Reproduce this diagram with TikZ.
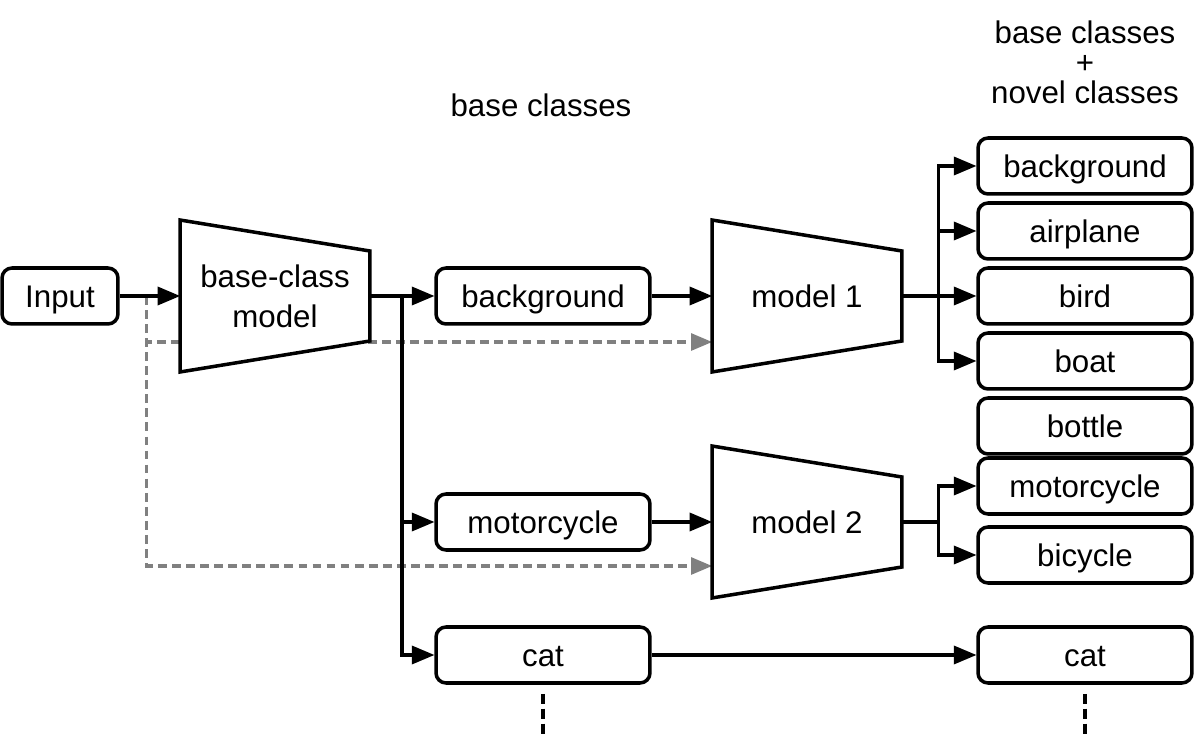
\documentclass[tikz,border=0pt]{standalone}
\usepackage{fontspec}
\setmainfont{Liberation Sans}
\usetikzlibrary{arrows}
\usetikzlibrary{calc,backgrounds}

\begin{document}
\begin{tikzpicture}[line cap=butt,line join=miter,>=triangle 45,x=0.02cm,y=-0.02cm,
    box/.style={draw,line width=2pt,rounded corners=0.2cm,minimum width=4.28cm,minimum height=1.12cm,text height=12.8pt,text depth=0pt,font=\fontsize{17.8}{21}\selectfont},
    model/.style={outer sep=0pt,minimum width=3.8cm,minimum height=3.04cm,align=center,font=\fontsize{17.8}{22.8}\selectfont},
    conn/.style={->,line width=2pt},
    skip/.style={->,line width=1.8pt,color=gray,dash pattern=on 5pt off 3pt},
    title/.style={align=center,font=\fontsize{17.8}{17}\selectfont}]
  \useasboundingbox (0,0) rectangle (1201,736);
  % left part
  \node[box,minimum width=2.32cm] (input) at (60,296) {Input};
  \node[model] (bcm) at (275,296) {base-class\\model};
  \node[box] (bg) at (543,296) {background};
  \node[box] (moto) at (543,522) {motorcycle};
  \node[box] (cat) at (543,655) {cat};
  \node[title] (basetitle) at (541,105) {base classes};
  % models
  \node[model] (m1) at (807,296) {model 1};
  \node[model] (m2) at (807,522) {model 2};
  % outputs
  \node[box] (rbg) at (1085,166) {background};
  \node[box] (rair) at (1085,231) {airplane};
  \node[box] (rbird) at (1085,296) {bird};
  \node[box] (rboat) at (1085,361) {boat};
  \node[box] (rbottle) at (1085,426) {bottle};
  \node[box] (rmoto) at (1085,486) {motorcycle};
  \node[box] (rbike) at (1085,555) {bicycle};
  \node[box] (rcat) at (1085,655) {cat};
  \node[title] (alltitle) at (1085,62) {base classes\\+\\novel classes};
  % junctions
  \coordinate (tap) at ($(input.east)!0.45!(bcm.west)$);
  \coordinate (split) at ($(bcm.east)!0.5!(bg.west)$);
  \coordinate (fan1) at ($(m1.east)!0.49!(rbird.west)$);
  \coordinate (fan2) at (fan1 |- m2.east);
  % arrows
  \draw[conn] (input) -- (bcm.west);
  \draw[conn] (bcm.east) -- (bg);
  \draw[conn] (split) |- (moto);
  \draw[conn] (split) |- (cat);
  \draw[conn] (bg) -- (m1.west);
  \draw[conn] (moto) -- (m2.west);
  \draw[conn] (cat) -- (rcat);
  \draw[conn] (m1.east) -- (rbird);
  \foreach \t in {rbg,rair,rboat}
    \draw[conn] (fan1) |- (\t);
  \draw[line width=2pt] (m2.east) -- (fan2);
  \draw[conn] (fan2) |- (rmoto);
  \draw[conn] (fan2) |- (rbike);
  \foreach \t in {cat,rcat}
    \draw[line width=2pt,dash pattern=on 0.2cm off 0.1cm] ($(\t.south)+(0,9)$) -- +(0,40);
  % shortcuts and model shapes
  \begin{scope}[on background layer]
    \draw[skip] (tap) |- ($(m1.west)+(0,46)$);
    \draw[skip] (tap) |- ($(m2.west)+(0,44)$);
    \foreach \m in {bcm,m1,m2}
      \draw[line width=2pt,fill=white] (\m.north west) -- ($(\m.north east)+(0,31)$)
        -- ($(\m.south east)+(0,-31)$) -- (\m.south west) -- cycle;
  \end{scope}
\end{tikzpicture}
\end{document}
